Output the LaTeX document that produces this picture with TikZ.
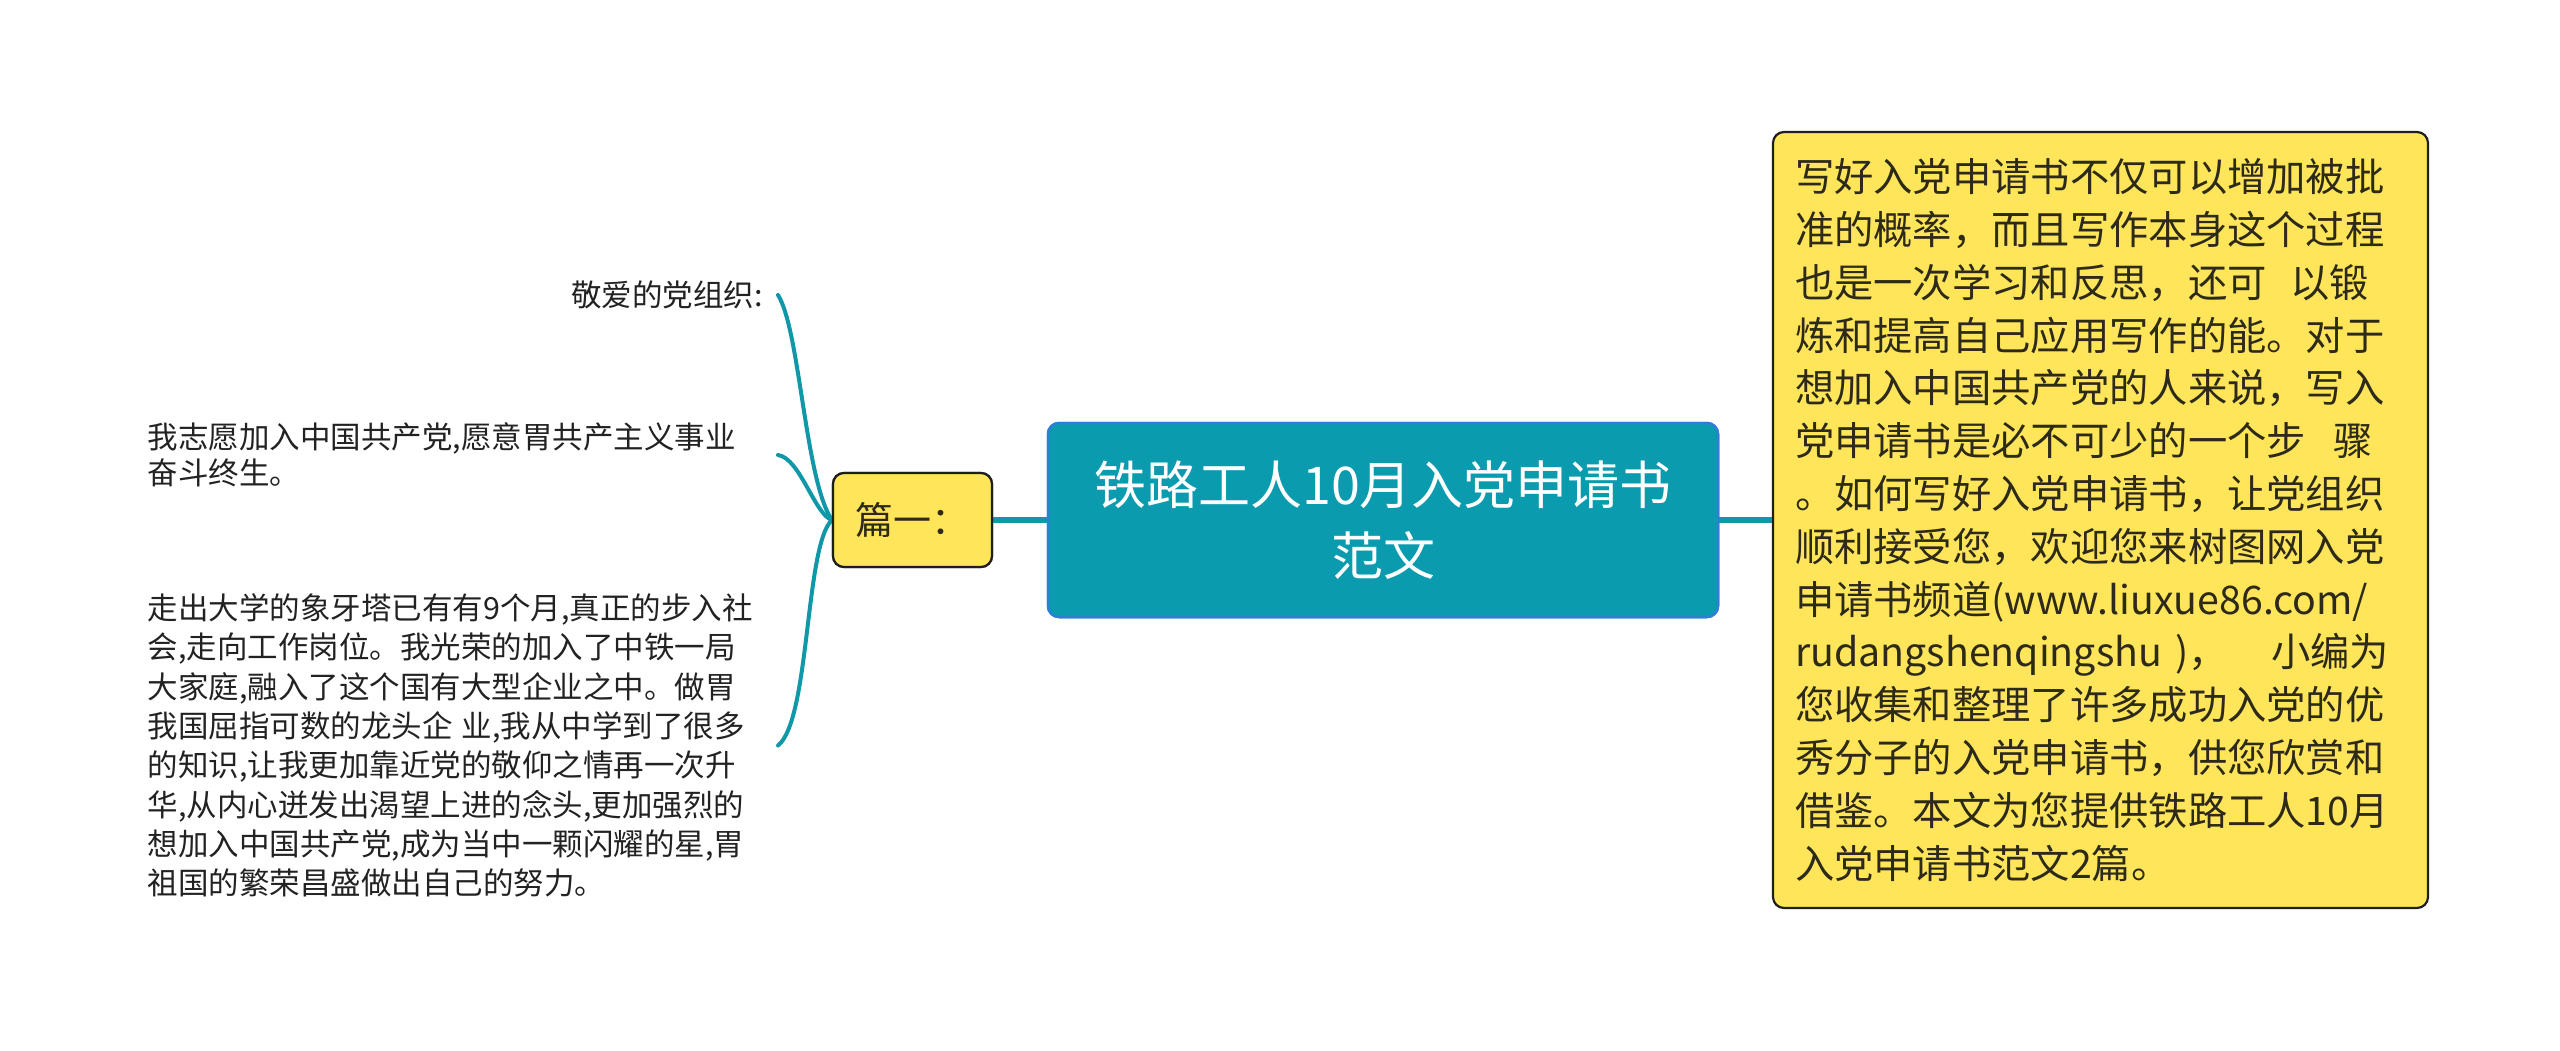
\documentclass[tikz,border=0pt]{standalone}
\usepackage{fontspec}
\setmainfont{Noto Sans CJK SC}
\definecolor{linec}{RGB}{17,152,168}
\definecolor{rootfill}{RGB}{11,155,174}
\definecolor{rootborder}{RGB}{45,127,214}
\definecolor{yfill}{RGB}{255,229,90}
\definecolor{yborder}{RGB}{30,30,30}
\definecolor{ytext}{RGB}{45,42,25}
\definecolor{ltext}{RGB}{34,34,34}
\begin{document}
\begin{tikzpicture}[x=1pt,y=-1pt,
  rootbox/.style={draw=rootborder, line width=2.5pt, fill=rootfill, rounded corners=11pt,
    minimum width=670pt, minimum height=194pt, align=center, text=white, inner sep=0pt,
    font=\fontsize{52}{71}\selectfont},
  ybox/.style={draw=yborder, line width=2.2pt, fill=yfill, rounded corners=11pt, text=ytext},
  leaftext/.style={text=ltext, inner xsep=15pt, inner ysep=0pt, text width=615pt,
    font=\fontsize{30.5}{39.3}\selectfont},
  mainline/.style={draw=linec, line width=6.5pt},
  branch/.style={draw=linec, line width=4pt, line cap=round}
]
\useasboundingbox (0,0) rectangle (2560,1051);

% nodes
\node[rootbox] (root) at (1383,520) {铁路工人10月入党申请书\\范文};

\node[ybox, minimum width=159pt, minimum height=94pt, inner xsep=22pt, inner ysep=0pt,
  font=\fontsize{38}{46}\selectfont] (p1) at (912.5,520) {篇一：};

\node[ybox, minimum width=655pt, minimum height=776pt, inner xsep=22pt, inner ysep=0pt,
  text width=611pt, align=left, font=\fontsize{39.3}{52.8}\selectfont] (desc) at (2100.5,520)
 {写好入党申请书不仅可以增加被批\\
  准的概率，而且写作本身这个过程\\
  也是一次学习和反思，还可\hspace{0.6em}以锻\\
  炼和提高自己应用写作的能。对于\\
  想加入中国共产党的人来说，写入\\
  党申请书是必不可少的一个步\hspace{0.7em}骤\\
  。如何写好入党申请书，让党组织\\
  顺利接受您，欢迎您来树图网入党\\
  申请书频道(www.liuxue86.com/\\
  rudangshenqingshu )，\hspace{1.1em}小编为\\
  您收集和整理了许多成功入党的优\\
  秀分子的入党申请书，供您欣赏和\\
  借鉴。本文为您提供铁路工人10月\\
  入党申请书范文2篇。};

\node[leaftext, align=right, anchor=east] (c1) at (778,295) {敬爱的党组织:};
\node[leaftext, align=left, anchor=east, font=\fontsize{30.5}{36.5}\selectfont] (c2) at (778,455)
 {我志愿加入中国共产党,愿意胃共产主义事业\\奋斗终生。};
\node[leaftext, align=left, anchor=east] (c3) at (778,745.5)
 {走出大学的象牙塔已有有9个月,真正的步入社\\
  会,走向工作岗位。我光荣的加入了中铁一局\\
  大家庭,融入了这个国有大型企业之中。做胃\\
  我国屈指可数的龙头企\hspace{0.3em}业,我从中学到了很多\\
  的知识,让我更加靠近党的敬仰之情再一次升\\
  华,从内心迸发出渴望上进的念头,更加强烈的\\
  想加入中国共产党,成为当中一颗闪耀的星,胃\\
  祖国的繁荣昌盛做出自己的努力。};

% connectors
\begin{scope}[on background layer/.style={}]
\end{scope}
\draw[mainline] (p1.east) -- (root.west);
\draw[mainline] (root.east) -- (desc.west);
\draw[branch] (p1.west) .. controls (805,480) and (800,330) .. (c1.east);
\draw[branch] (p1.west) .. controls (815,515) and (800,458) .. (c2.east);
\draw[branch] (p1.west) .. controls (805,545) and (810,720) .. (c3.east);

% redraw boxes over connector ends
\node[rootbox] at (root) {铁路工人10月入党申请书\\范文};
\node[ybox, minimum width=159pt, minimum height=94pt, inner xsep=22pt, inner ysep=0pt,
  font=\fontsize{38}{46}\selectfont] at (p1) {篇一：};
\end{tikzpicture}
\end{document}
